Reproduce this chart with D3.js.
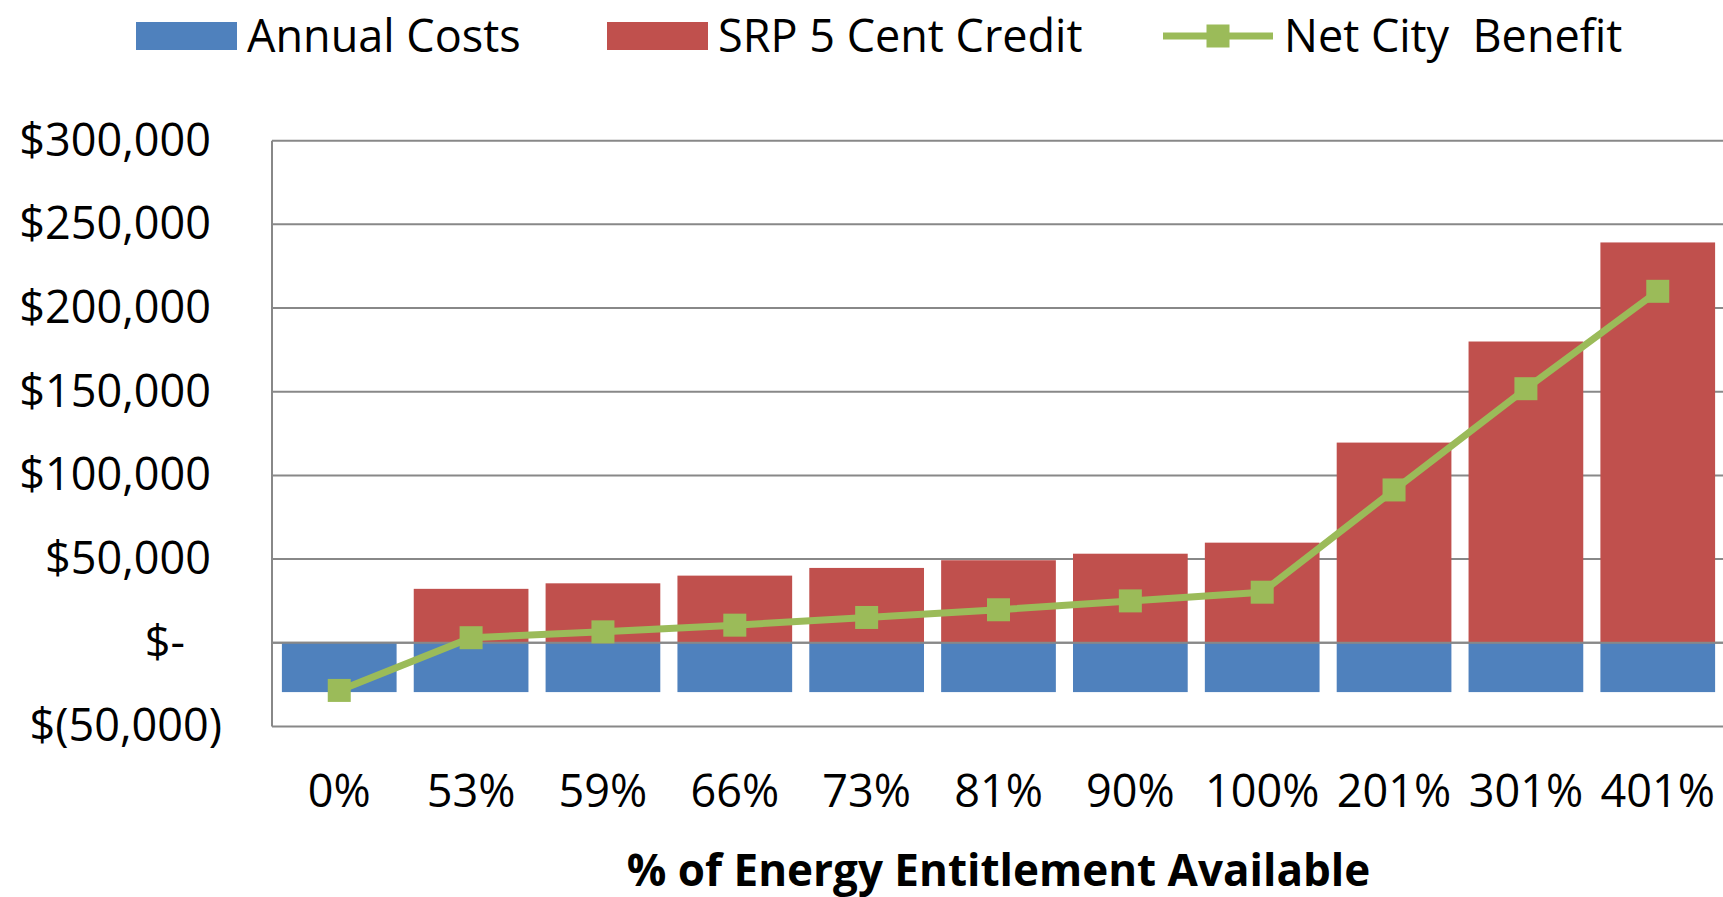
<!DOCTYPE html>
<html lang="en">
<head>
<meta charset="UTF-8">
<title>Energy Entitlement</title>
<script src="https://cdn.jsdelivr.net/npm/d3@7"></script>
<style>
  body { margin:0; background:#fff; }
  text { font-family:"Open Sans", sans-serif; fill:#000; }
  .grid line { stroke:#888; stroke-width:2px; }
</style>
</head>
<body>
<script>
var categories = ["0%","53%","59%","66%","73%","81%","90%","100%","201%","301%","401%"];
var annualCosts = [-29500,-29500,-29500,-29500,-29500,-29500,-29500,-29500,-29500,-29500,-29500];
var srpCredit = [0,32200,35500,40100,44700,49300,53200,59800,119600,180000,239200];
var netBenefit = [-28500,3000,6500,10500,15100,19700,25000,30200,91300,151800,210000];
var yTicks = [-50000,0,50000,100000,150000,200000,250000,300000];

var width = 1723, height = 897;
var plotLeft = 272, plotRight = 1725, plotTop = 140.7, plotBottom = 726.4;

var svg = d3.select("body").append("svg")
            .attr("width",width).attr("height",height);

var x = d3.scaleBand().domain(categories).range([plotLeft,plotRight])
          .paddingInner(0.13).paddingOuter(0.075);
var y = d3.scaleLinear().domain([-50000,300000]).range([plotBottom,plotTop]);

// gridlines
svg.append("g").attr("class","grid")
   .selectAll("line").data(yTicks).enter().append("line")
   .attr("x1",plotLeft).attr("x2",width)
   .attr("y1",function(d){return y(d);}).attr("y2",function(d){return y(d);});
svg.append("line").attr("x1",plotLeft).attr("x2",plotLeft).attr("y1",plotTop).attr("y2",plotBottom)
   .attr("stroke","#888").attr("stroke-width",2);

// bars
svg.append("g").selectAll("rect").data(categories).enter().append("rect")
   .attr("x",function(d){return x(d);}).attr("width",x.bandwidth())
   .attr("y",y(0)).attr("height",function(d,i){return y(annualCosts[i])-y(0);})
   .attr("fill","#4F81BD");
svg.append("g").selectAll("rect").data(categories).enter().append("rect")
   .attr("x",function(d){return x(d);}).attr("width",x.bandwidth())
   .attr("y",function(d,i){return y(srpCredit[i]);})
   .attr("height",function(d,i){return y(0)-y(srpCredit[i]);})
   .attr("fill","#C0504D");

// zero line above bars
svg.append("line").attr("x1",plotLeft).attr("x2",width).attr("y1",y(0)).attr("y2",y(0))
   .attr("stroke","#888").attr("stroke-width",2);

// net line
var line = d3.line()
   .x(function(d,i){return x(categories[i])+x.bandwidth()/2;})
   .y(function(d){return y(d);});
svg.append("path").attr("d",line(netBenefit))
   .attr("fill","none").attr("stroke","#9BBB59").attr("stroke-width",7)
   .attr("stroke-linejoin","round");
var ms = 23;
svg.append("g").selectAll("rect").data(netBenefit).enter().append("rect")
   .attr("x",function(d,i){return x(categories[i])+x.bandwidth()/2-ms/2;})
   .attr("y",function(d){return y(d)-ms/2;})
   .attr("width",ms).attr("height",ms).attr("fill","#9BBB59");

// y axis
function fmt(d){
  if (d===0) return "$-";
  if (d<0) return "$(" + d3.format(",")(-d) + ")";
  return "$" + d3.format(",")(d);
}
var yAxis = svg.append("g").attr("transform","translate("+plotLeft+",0)")
   .call(d3.axisLeft(y).tickValues(yTicks).tickFormat(fmt).tickSize(0).tickPadding(50));
yAxis.select(".domain").remove();
yAxis.selectAll("text").style("font-size","45px").style("font-family","'Open Sans'")
   .attr("dx",function(d){return d<0 ? 0 : (d===0 ? -37 : -11);});

// x axis
var xAxis = svg.append("g").attr("transform","translate(0,"+plotBottom+")")
   .call(d3.axisBottom(x).tickSize(0).tickPadding(49));
xAxis.select(".domain").remove();
xAxis.selectAll("text").style("font-size","45px").style("font-family","'Open Sans'");

svg.append("text").attr("x",(plotLeft+plotRight)/2).attr("y",886)
   .attr("text-anchor","middle").style("font-size","44px").style("font-weight","bold")
   .text("% of Energy Entitlement Available");

// legend
var legend = [
  {name:"Annual Costs", color:"#4F81BD", type:"bar", x:136},
  {name:"SRP 5 Cent Credit", color:"#C0504D", type:"bar", x:607},
  {name:"Net City  Benefit", color:"#9BBB59", type:"line", x:1163}
];
var lg = svg.append("g").selectAll("g").data(legend).enter().append("g")
   .attr("transform",function(d){return "translate("+d.x+",36)";});
lg.filter(function(d){return d.type==="bar";}).append("rect")
   .attr("x",0).attr("y",-14).attr("width",101).attr("height",28)
   .attr("fill",function(d){return d.color;});
lg.filter(function(d){return d.type==="line";}).append("line")
   .attr("x1",0).attr("x2",110).attr("y1",0).attr("y2",0)
   .attr("stroke",function(d){return d.color;}).attr("stroke-width",7);
lg.filter(function(d){return d.type==="line";}).append("rect")
   .attr("x",55-ms/2).attr("y",-ms/2).attr("width",ms).attr("height",ms)
   .attr("fill",function(d){return d.color;});
lg.append("text").attr("x",function(d){return d.type==="line"?121:111;}).attr("y",0)
   .attr("dy","0.35em").style("font-size","45px").style("white-space","pre")
   .text(function(d){return d.name;});
</script>
</body>
</html>
